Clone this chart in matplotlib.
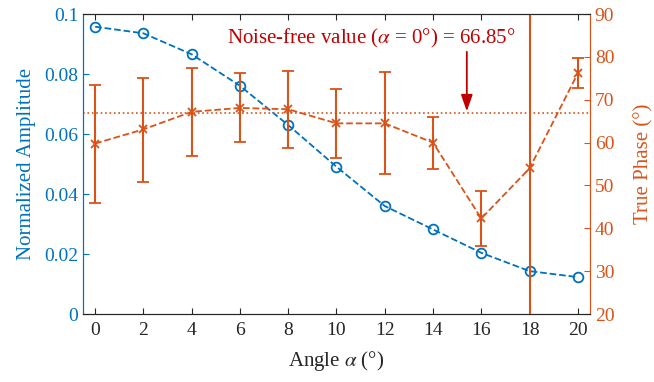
import numpy as np
import matplotlib
matplotlib.use('Agg')
import matplotlib.pyplot as plt

plt.rcParams['font.family'] = ['Liberation Serif', 'DejaVu Serif']
plt.rcParams['mathtext.fontset'] = 'stix'

# data
angle = [0, 2, 4, 6, 8, 10, 12, 14, 16, 18, 20]
amplitude = [0.0958, 0.0936, 0.0866, 0.0761, 0.0630, 0.0491, 0.0360, 0.0282, 0.0204, 0.0143, 0.0123]
phase = [59.8, 63.1, 67.2, 68.1, 67.8, 64.5, 64.5, 60.0, 42.3, 54.0, 76.2]
phase_top = [73.4, 75.1, 77.5, 76.2, 76.7, 72.6, 76.5, 65.9, 48.8, 154.0, 79.7]
phase_bot = [46.0, 50.9, 56.9, 60.2, 58.7, 56.5, 52.7, 53.8, 35.9, -46.0, 72.8]
noise_free = 66.85

blue = '#0072BD'
orange = '#D95319'
red = '#C00000'
gray = '#262626'

fig = plt.figure(figsize=(6.54, 3.82), dpi=100)
ax = fig.add_axes([0.127, 0.178, 0.775, 0.785])
ax2 = ax.twinx()

ax.plot(angle, amplitude, '--o', color=blue, linewidth=1.3, markersize=7,
        markerfacecolor='none', markeredgewidth=1.3)

yerr = [np.array(phase) - np.array(phase_bot), np.array(phase_top) - np.array(phase)]
ax2.errorbar(angle, phase, yerr=yerr, fmt='--x', color=orange, linewidth=1.3,
             elinewidth=1.5, capsize=4, capthick=1.5, markersize=6, markeredgewidth=1.3)
ax2.axhline(noise_free, color=orange, linestyle=':', linewidth=1.2)

ax2.text(11.43, 84.4, r'Noise-free value ($\alpha$ = 0°) = 66.85°', color=red,
         fontsize=15, ha='center', va='center')
ax2.annotate('', xy=(15.4, 67.3), xytext=(15.4, 81.2),
             arrowprops=dict(arrowstyle='-|>,head_width=0.35,head_length=1.0',
                             color=red, linewidth=1.3, shrinkA=0, shrinkB=0))

ax.set_xlim(-0.5, 20.5)
ax.set_ylim(0, 0.1)
ax2.set_ylim(20, 90)
ax.set_xticks(angle)
ax.set_yticks([0, 0.02, 0.04, 0.06, 0.08, 0.1])
ax.set_yticklabels(['0', '0.02', '0.04', '0.06', '0.08', '0.1'])
ax2.set_yticks([20, 30, 40, 50, 60, 70, 80, 90])

ax.set_xlabel(r'Angle $\alpha$ (°)', fontsize=15, color=gray, labelpad=7)
ax.set_ylabel('Normalized Amplitude', fontsize=15, color=blue, labelpad=6)
ax2.set_ylabel('True Phase (°)', fontsize=15, color=orange, labelpad=14)

ax.tick_params(axis='x', direction='in', top=True, colors=gray, labelsize=14, length=4, pad=6)
ax.tick_params(axis='y', direction='in', colors=blue, labelsize=14, length=4)
ax2.tick_params(axis='y', direction='in', colors=orange, labelsize=14, length=4)

for a in (ax, ax2):
    a.spines['top'].set_color(gray)
    a.spines['bottom'].set_color(gray)
    a.spines['left'].set_color(blue)
    a.spines['right'].set_color(orange)
    for s in a.spines.values():
        s.set_linewidth(0.8)

fig.savefig('out.png', dpi=100)
